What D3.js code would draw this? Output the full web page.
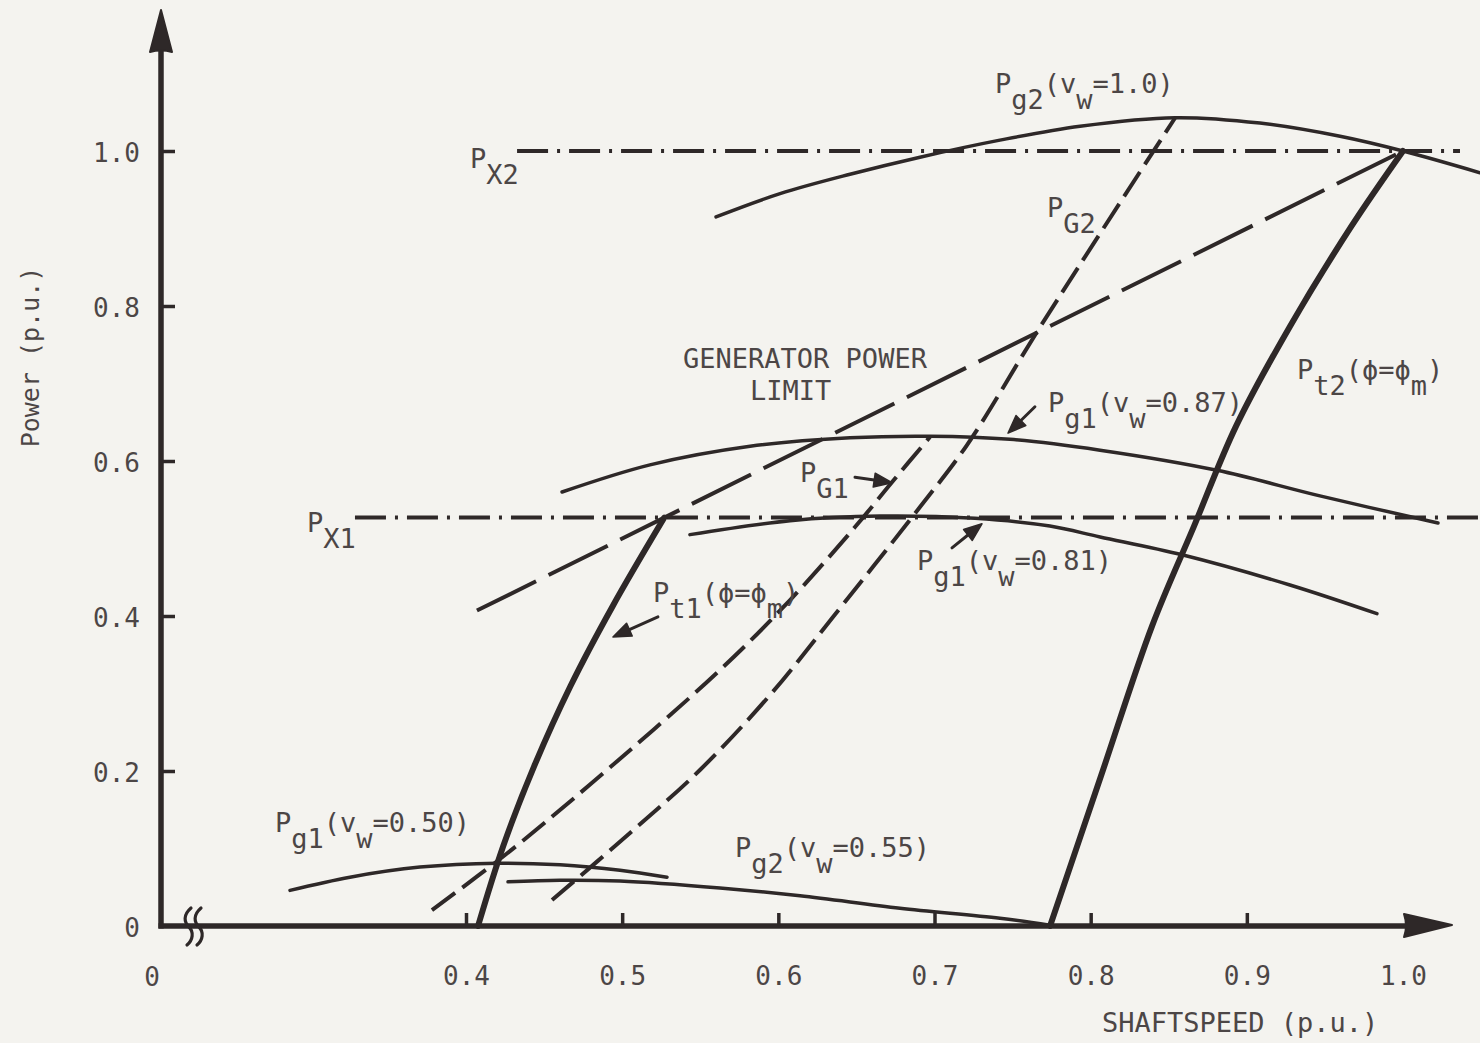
<!DOCTYPE html>
<html>
<head>
<meta charset="utf-8">
<script src="https://cdn.jsdelivr.net/npm/d3@7"></script>
<style>
  html, body { margin: 0; padding: 0; background: #f4f3ef; }
  svg { display: block; }
  text { font-family: "DejaVu Sans Mono", monospace; fill: #4c4646; }
</style>
</head>
<body>
<svg id="chart" width="1480" height="1043"></svg>
<script>
// ---- axis ticks ----
const xTickValues = [0.4, 0.5, 0.6, 0.7, 0.8, 0.9, 1.0];
const yTickValues = [0, 0.2, 0.4, 0.6, 0.8, 1.0];

// ---- curves, as [shaftspeed (p.u.), power (p.u.)] ----
// generator power curves
const pg2Vw100 = [[0.5601, 0.915], [0.6011, 0.945], [0.6459, 0.970], [0.6907, 0.992], [0.7419, 1.014],
                  [0.7932, 1.032], [0.8540, 1.043], [0.9084, 1.036], [0.9597, 1.019], [1.0, 1.0], [1.0493, 0.972]];
const pg1Vw087 = [[0.4615, 0.560], [0.5178, 0.595], [0.5819, 0.619], [0.6459, 0.630], [0.6971, 0.632],
                  [0.7483, 0.628], [0.8060, 0.614], [0.8809, 0.588], [0.9468, 0.555], [1.0224, 0.520]];
const pg1Vw081 = [[0.5434, 0.505], [0.6075, 0.523], [0.6651, 0.529], [0.7259, 0.526], [0.7739, 0.516],
                  [0.8060, 0.502], [0.8585, 0.479], [0.9276, 0.440], [0.9833, 0.403]];
const pg1Vw050 = [[0.2873, 0.046], [0.3257, 0.063], [0.3705, 0.076], [0.4199, 0.081], [0.4602, 0.079],
                  [0.4986, 0.072], [0.5287, 0.063]];
const pg2Vw055 = [[0.4269, 0.057], [0.4602, 0.059], [0.4986, 0.058], [0.5626, 0.049], [0.6139, 0.039],
                  [0.6779, 0.023], [0.7419, 0.010], [0.7739, 0.001]];
// turbine power at optimum pitch
const pt1 = [[0.4077, 0.0], [0.4238, 0.103], [0.4436, 0.206], [0.4670, 0.310], [0.4940, 0.413],
             [0.527, 0.527]];
const pt2 = [[0.7740, 0.0], [0.8066, 0.1935], [0.8393, 0.387], [0.8662, 0.516], [0.8931, 0.645],
             [0.9277, 0.774], [0.9670, 0.903], [1.0, 1.0]];
// operating loci
const pG1 = [[0.3782, 0.0206], [0.4250, 0.0916], [0.4813, 0.1858], [0.5626, 0.3303], [0.6075, 0.4206],
             [0.6491, 0.5148], [0.6734, 0.5742], [0.6971, 0.6310]];
const pG2 = [[0.4551, 0.0335], [0.5050, 0.1200], [0.5498, 0.2013], [0.5947, 0.2981], [0.6350, 0.3987],
             [0.6907, 0.5406], [0.7208, 0.6206], [0.7676, 0.7729], [0.8540, 1.0426]];
// generator power limit (P = shaftspeed)
const powerLimit = [[0.407, 0.407], [1.0, 1.0]];
// rated power levels
const pX1 = [[0.3289, 0.527], [1.049, 0.527]];
const pX2 = [[0.4327, 1.0], [1.0365, 1.0]];

// ---- labels: anchor [shaftspeed, power] of the first character's baseline; parts flagged 1 are lowered ----
const curveLabels = [
  { at: [0.7387, 1.075], parts: [["P", 0], ["g2", 1], ["(v", 0], ["w", 1], ["=1.0)", 0]] },
  { at: [0.4026, 0.978], parts: [["P", 0], ["X2", 1]] },
  { at: [0.7720, 0.915], parts: [["P", 0], ["G2", 1]] },
  { at: [0.7727, 0.663], parts: [["P", 0], ["g1", 1], ["(v", 0], ["w", 1], ["=0.87)", 0]] },
  { at: [0.9321, 0.706], parts: [["P", 0], ["t2", 1], ["(\u03D5=\u03D5", 0], ["m", 1], [")", 0]] },
  { at: [0.6139, 0.573], parts: [["P", 0], ["G1", 1]] },
  { at: [0.2982, 0.508], parts: [["P", 0], ["X1", 1]] },
  { at: [0.6888, 0.459], parts: [["P", 0], ["g1", 1], ["(v", 0], ["w", 1], ["=0.81)", 0]] },
  { at: [0.5197, 0.418], parts: [["P", 0], ["t1", 1], ["(\u03D5=\u03D5", 0], ["m", 1], [")", 0]] },
  { at: [0.2777, 0.121], parts: [["P", 0], ["g1", 1], ["(v", 0], ["w", 1], ["=0.50)", 0]] },
  { at: [0.5722, 0.089], parts: [["P", 0], ["g2", 1], ["(v", 0], ["w", 1], ["=0.55)", 0]] }
];
const plainLabels = [
  { at: [0.5390, 0.720], text: "GENERATOR POWER" },
  { at: [0.5819, 0.679], text: "LIMIT" }
];
// pointer arrows: [from, to]
const pointers = [
  [[0.6491, 0.579], [0.6728, 0.572]],
  [[0.7643, 0.670], [0.7471, 0.636]],
  [[0.7112, 0.488], [0.7304, 0.519]],
  [[0.5229, 0.399], [0.4941, 0.373]]
];

// ---- drawing ----
const INK = "#2e2828";
const svg = d3.select("#chart");
svg.append("rect").attr("width", 1480).attr("height", 1043).attr("fill", "#f4f3ef");

const x = d3.scaleLinear().domain([0.4, 1.0]).range([466, 1403]);
const y = d3.scaleLinear().domain([0, 1]).range([926, 151]);
const axisX0 = 161;           // vertical axis position (origin column)
const axisY0 = y(0);

const line = d3.line()
  .x(d => x(d[0]))
  .y(d => y(d[1]))
  .curve(d3.curveCatmullRom.alpha(0.5));
const straight = d3.line().x(d => x(d[0])).y(d => y(d[1]));

const plot = svg.append("g").attr("fill", "none").attr("stroke", INK).attr("stroke-linecap", "butt");

// rated power levels (dash-dot)
[pX1, pX2].forEach(p => plot.append("path").attr("d", straight(p))
  .attr("stroke-width", 4).attr("stroke-dasharray", "31,9,3,9"));

// generator power limit (long dashes)
plot.append("path").attr("d", straight(powerLimit))
  .attr("stroke-width", 4).attr("stroke-dasharray", "66,14");

// operating loci (short dashes)
[pG1, pG2].forEach(p => plot.append("path").attr("d", line(p))
  .attr("stroke-width", 4).attr("stroke-dasharray", "29,9"));

// generator curves (thin solid)
[pg2Vw100, pg1Vw087, pg1Vw081, pg1Vw050, pg2Vw055].forEach(p => plot.append("path").attr("d", line(p))
  .attr("stroke-width", 3.5).attr("stroke-linecap", "round"));

// turbine curves (heavy solid)
[pt1, pt2].forEach(p => plot.append("path").attr("d", line(p))
  .attr("stroke-width", 6).attr("stroke-linecap", "round"));

// ---- axes ----
const axes = svg.append("g");
// vertical axis line + arrow
axes.append("line").attr("x1", axisX0).attr("x2", axisX0).attr("y1", axisY0 + 2.5).attr("y2", 48)
  .attr("stroke", INK).attr("stroke-width", 5.5);
axes.append("path")
  .attr("d", `M${axisX0},10 L${axisX0 + 11},52 Q${axisX0},49 ${axisX0 - 11},52 Z`)
  .attr("fill", INK).attr("stroke", INK).attr("stroke-width", 2).attr("stroke-linejoin", "round");
// horizontal axis line + arrow
axes.append("line").attr("x1", axisX0 - 2.5).attr("x2", 1410).attr("y1", axisY0).attr("y2", axisY0)
  .attr("stroke", INK).attr("stroke-width", 5.5);
axes.append("path")
  .attr("d", `M1452,${axisY0 - 1} L1404,${axisY0 - 12} Q1408,${axisY0} 1404,${axisY0 + 11} Z`)
  .attr("fill", INK).attr("stroke", INK).attr("stroke-width", 2).attr("stroke-linejoin", "round");
// axis break marks
[189, 199].forEach(bx => axes.append("path")
  .attr("d", `M${bx + 2},908 C${bx - 6},915 ${bx - 5},922 ${bx},927 S${bx + 4},940 ${bx - 2},945`)
  .attr("fill", "none").attr("stroke", INK).attr("stroke-width", 3.2).attr("stroke-linecap", "round"));

const fmt = d => d === 0 ? "0" : d3.format(".1f")(d);

// y axis ticks and labels
const yAxis = axes.append("g").attr("transform", `translate(${axisX0},0)`)
  .call(d3.axisLeft(y).tickValues(yTickValues).tickSizeInner(-14).tickSizeOuter(0)
        .tickPadding(21).tickFormat(fmt));
yAxis.select(".domain").remove();
yAxis.selectAll(".tick line").attr("stroke", INK).attr("stroke-width", 3.5)
  .filter(d => d === 0).remove();
yAxis.selectAll(".tick text").attr("font-size", 26).attr("font-family", "DejaVu Sans Mono")
  .attr("fill", "#4c4646").attr("dy", "0.4em");

// x axis ticks and labels
const xAxis = axes.append("g").attr("transform", `translate(0,${axisY0})`)
  .call(d3.axisBottom(x).tickValues(xTickValues).tickSizeInner(-13).tickSizeOuter(0)
        .tickPadding(41).tickFormat(fmt));
xAxis.select(".domain").remove();
xAxis.selectAll(".tick line").attr("stroke", INK).attr("stroke-width", 3.5)
  .filter(d => d === 1.0).remove();
xAxis.selectAll(".tick text").attr("font-size", 26).attr("font-family", "DejaVu Sans Mono")
  .attr("fill", "#4c4646");

// origin label on the horizontal axis
axes.append("text").attr("x", axisX0 - 9).attr("y", 986).attr("text-anchor", "middle")
  .attr("font-size", 26).text("0");

// axis titles
svg.append("text").attr("x", 1102).attr("y", 1032).attr("font-size", 27).text("SHAFTSPEED (p.u.)");
svg.append("text").attr("transform", "translate(39,357) rotate(-90)").attr("text-anchor", "middle")
  .attr("font-size", 25).text("Power (p.u.)");

// ---- curve labels ----
const SUB = 16;
const labels = svg.append("g").attr("font-size", 27);
curveLabels.forEach(l => {
  const t = labels.append("text").attr("x", x(l.at[0])).attr("y", y(l.at[1]));
  let low = 0;
  l.parts.forEach(([s, sub]) => {
    const dy = (sub - low) * SUB;
    t.append("tspan").attr("dy", dy).text(s);
    low = sub;
  });
});
plainLabels.forEach(l => labels.append("text").attr("x", x(l.at[0])).attr("y", y(l.at[1])).text(l.text));

// ---- pointer arrows ----
const arrows = svg.append("g");
pointers.forEach(([a, b]) => {
  const x1 = x(a[0]), y1 = y(a[1]), x2 = x(b[0]), y2 = y(b[1]);
  const ang = Math.atan2(y2 - y1, x2 - x1);
  const len = 18, hw = 7;
  const bx = x2 - len * Math.cos(ang), by = y2 - len * Math.sin(ang);
  arrows.append("line").attr("x1", x1).attr("y1", y1).attr("x2", bx).attr("y2", by)
    .attr("stroke", INK).attr("stroke-width", 3).attr("stroke-linecap", "round");
  const px = -Math.sin(ang) * hw, py = Math.cos(ang) * hw;
  arrows.append("path")
    .attr("d", `M${x2},${y2} L${bx + px},${by + py} L${bx - px},${by - py} Z`)
    .attr("fill", INK).attr("stroke", INK).attr("stroke-width", 1.5).attr("stroke-linejoin", "round");
});
</script>
</body>
</html>
